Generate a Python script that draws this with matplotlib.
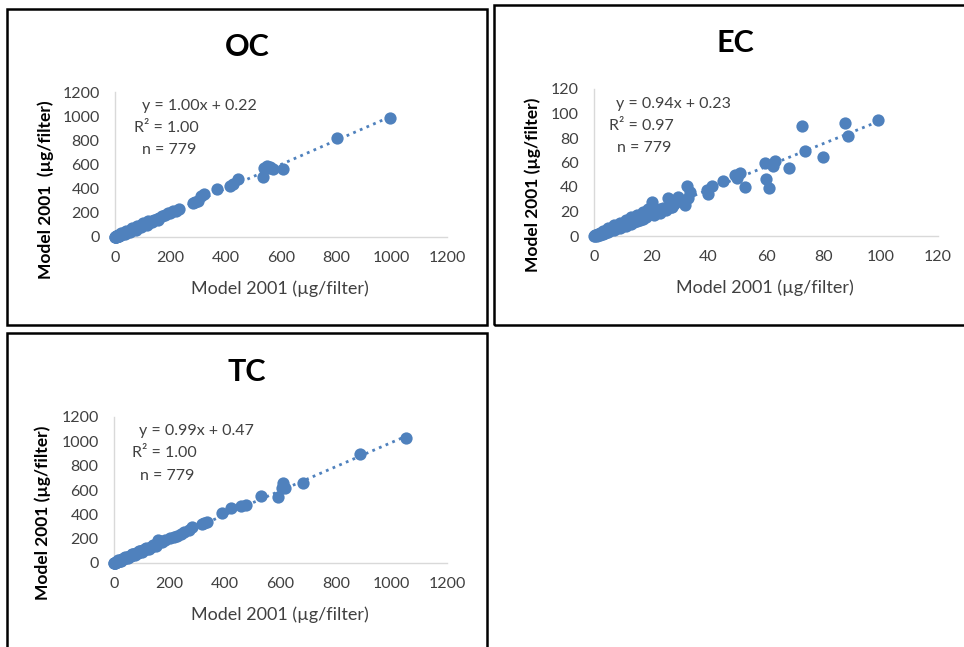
import matplotlib
matplotlib.use("Agg")
import matplotlib.pyplot as plt
from matplotlib.patches import Rectangle

plt.rcParams['font.family'] = ['Lato', 'DejaVu Sans']

BLUE = '#4f81bd'

# ---------------- data ----------------
oc_x = [0, 1, 2, 3, 4, 5, 6, 8, 10, 12, 14, 16, 18, 20, 22, 25, 28, 30, 33, 36, 40, 43, 46, 50,
        54, 58, 62, 66, 70, 75, 80, 85, 90, 95, 100, 105, 110, 118, 125, 132, 140, 150, 160, 170,
        180, 192, 200, 210, 220, 230, 283, 290, 300, 312, 320, 367, 415, 425, 446, 536, 540, 548,
        555, 560, 572, 608, 801, 994, 15, 35, 55, 75, 95, 115, 135, 155, 20, 40, 60, 80, 100, 120]
oc_y = [0, 2, 1, 4, 3, 6, 5, 9, 10, 13, 12, 17, 18, 22, 21, 26, 27, 32, 31, 37, 40, 44, 45, 51,
        53, 59, 61, 67, 69, 76, 79, 86, 89, 96, 99, 106, 109, 119, 124, 133, 139, 152, 158, 175,
        182, 196, 199, 212, 218, 229, 282, 292, 301, 336, 358, 395, 426, 436, 478, 499, 570, 590,
        575, 580, 566, 563, 817, 983, 5, 22, 42, 62, 82, 102, 122, 142, 30, 50, 72, 92, 112, 135]

ec_x = [0, 0.3, 0.5, 0.8, 1, 1.3, 1.5, 2, 2.3, 2.7, 3, 3.4, 3.8, 4, 4.5, 5, 5.5, 6, 6.5, 7, 7.5,
        8, 8.5, 9, 9.5, 10, 10.5, 11, 11.5, 12, 12.5, 13, 13.5, 14, 14.5, 15, 15.5, 16, 16.5, 17,
        17.5, 18, 18.5, 19, 19.5, 20, 20.1, 21, 22, 23, 24, 25.9, 27.1, 28, 29.4, 30, 31.7, 32.3,
        32.9, 33.5, 39.3, 39.9, 41, 45.1, 49.2, 49.8, 50.9, 52.7, 59.6, 60, 61.2, 62.6, 63.1, 68.1,
        72.4, 73.6, 80, 87.5, 88.7, 99.2, 3, 5, 7, 9, 11, 13, 15, 17, 19, 2, 4, 6, 8, 10, 12, 14, 16,
        18, 1, 3, 5, 7, 9, 11, 13, 15, 17, 21, 23, 25, 27]
ec_y = [0, 0.5, 0.3, 1, 0.8, 1.5, 1.2, 2.2, 1.8, 2.8, 3, 3.5, 3.2, 4.2, 4.1, 5, 5.3, 6, 5.8, 6.8,
        7, 7.6, 7.9, 8.5, 9, 9.6, 9.8, 10.5, 10.8, 11.2, 11.8, 12.5, 12.1, 13.5, 13, 14.2, 14.6,
        15, 15.8, 16, 16.5, 17, 17.8, 18, 19, 19.3, 28, 18.5, 21, 22, 23, 31.3, 23.9, 26, 32.1,
        28.5, 25.3, 41, 30.8, 36.2, 37.5, 34.3, 41, 44.9, 49.8, 47.1, 51.7, 39.7, 59.3, 46.3,
        39.5, 57, 61.2, 55.8, 89.8, 69.6, 64.7, 92, 81.6, 94.7, 4.2, 6.5, 8.8, 11, 13, 15.5, 17.5,
        19.8, 22, 1.2, 2.8, 4.5, 6.2, 8, 9.8, 11.5, 13.2, 15.2, 0, 1.5, 3, 4.8, 6.5, 8.2,
        10, 12, 13.5, 17, 19, 21, 24]

tc_x = [0, 1, 2, 3, 4, 6, 8, 10, 12, 14, 16, 18, 20, 23, 26, 30, 33, 36, 40, 44, 48, 52, 56, 60,
        65, 70, 75, 80, 85, 90, 95, 100, 106, 112, 118, 125, 132, 140, 148, 155, 160, 172, 185,
        202, 215, 226, 240, 253, 270, 282, 316, 325, 334, 388, 420, 457, 476, 530, 590, 604, 610,
        616, 682, 887, 1052, 25, 50, 75, 100, 125, 150, 15, 40, 65, 90, 115, 140, 165]
tc_y = [0, 2, 1, 4, 3, 7, 8, 11, 12, 15, 16, 19, 20, 24, 26, 31, 33, 37, 40, 45, 48, 53, 56, 61,
        65, 71, 75, 80, 85, 90, 95, 100, 106, 112, 118, 125, 132, 140, 147, 155, 189, 175, 185,
        203, 215, 224, 238, 257, 272, 293, 318, 326, 334, 408, 450, 469, 477, 551, 545, 614, 655,
        614, 660, 896, 1030, 18, 42, 68, 92, 118, 142, 24, 50, 75, 100, 124, 150, 178]

panels = [
    dict(name='OC', x=oc_x, y=oc_y, slope=1.00, icpt=0.22, r2='1.00', n='779', lim=1200,
         ticks=[0, 200, 400, 600, 800, 1000, 1200],
         ylabel='Model 2001  (µg/filter)',
         box=(115, 237, 447, 92), title_xy=(247, 47),
         eq=(0.081, 0.903), r2xy=(0.057, 0.752), nxy=(0.081, 0.6),
         xl=(0.498, -0.359), yl=(-0.208, 0.324), fitmax=994),
    dict(name='EC', x=ec_x, y=ec_y, slope=0.94, icpt=0.23, r2='0.97', n='779', lim=120,
         ticks=[0, 20, 40, 60, 80, 100, 120],
         ylabel='Model 2001 (µg/filter)',
         box=(594, 236, 938, 89), title_xy=(735, 43),
         eq=(0.064, 0.898), r2xy=(0.044, 0.75), nxy=(0.067, 0.6),
         xl=(0.497, -0.354), yl=(-0.177, 0.347), fitmax=99.2),
    dict(name='TC', x=tc_x, y=tc_y, slope=0.99, icpt=0.47, r2='1.00', n='779', lim=1200,
         ticks=[0, 200, 400, 600, 800, 1000, 1200],
         ylabel='Model 2001 (µg/filter)',
         box=(114, 563, 447, 417), title_xy=(247, 372),
         eq=(0.075, 0.904), r2xy=(0.054, 0.751), nxy=(0.078, 0.598),
         xl=(0.498, -0.356), yl=(-0.213, 0.346), fitmax=1052),
]

W, H = 964, 647
fig = plt.figure(figsize=(W / 100, H / 100), dpi=100)

# panel borders (pixel coords)
borders = [(7, 9, 487, 325), (494, 5, 975, 325), (7, 333, 487, 660)]
for (x0, y0, x1, y1) in borders:
    fig.patches.append(Rectangle((x0 / W, 1 - y1 / H), (x1 - x0) / W, (y1 - y0) / H,
                                 transform=fig.transFigure, fill=False,
                                 edgecolor='black', linewidth=1.8))

for p in panels:
    l, b, r, t = p['box']
    ax = fig.add_axes([l / W, 1 - b / H, (r - l) / W, (b - t) / H])
    ax.set_xlim(0, p['lim'])
    ax.set_ylim(0, p['lim'])
    ax.set_xticks(p['ticks'])
    ax.set_yticks(p['ticks'])
    ax.tick_params(length=0, labelsize=11.5, colors='#404040', pad=10)
    ax.tick_params(axis='y', pad=11)
    for s in ['top', 'right']:
        ax.spines[s].set_visible(False)
    for s in ['left', 'bottom']:
        ax.spines[s].set_color('#d9d9d9')
        ax.spines[s].set_linewidth(1.0)
    ax.patch.set_alpha(0)
    ax.scatter(p['x'], p['y'], s=78, color=BLUE, linewidths=0, clip_on=False, zorder=3)
    xs = [0, p['fitmax']]
    ys = [p['slope'] * v + p['icpt'] for v in xs]
    ax.plot(xs, ys, color=BLUE, linewidth=2, linestyle=(0, (1, 1.6)), zorder=2, clip_on=False)
    ax.text(*p['eq'], f"y = {p['slope']:.2f}x + {p['icpt']:.2f}", transform=ax.transAxes,
            ha='left', va='center', fontsize=11.5, color='#404040')
    ax.text(*p['r2xy'], f"R² = {p['r2']}", transform=ax.transAxes,
            ha='left', va='center', fontsize=11.5, color='#404040')
    ax.text(*p['nxy'], f"n = {p['n']}", transform=ax.transAxes,
            ha='left', va='center', fontsize=11.5, color='#404040')
    ax.text(*p['xl'], 'Model 2001 (µg/filter)', transform=ax.transAxes,
            ha='center', va='center', fontsize=13, color='#404040')
    ax.text(*p['yl'], p['ylabel'], transform=ax.transAxes, rotation=90,
            ha='center', va='center', fontsize=12.5, color='black', fontweight='bold')
    tx, ty = p['title_xy']
    fig.text(tx / W, 1 - ty / H, p['name'], ha='center', va='center',
             fontsize=22, fontweight='bold', color='black')

fig.savefig('out.png', dpi=100)
